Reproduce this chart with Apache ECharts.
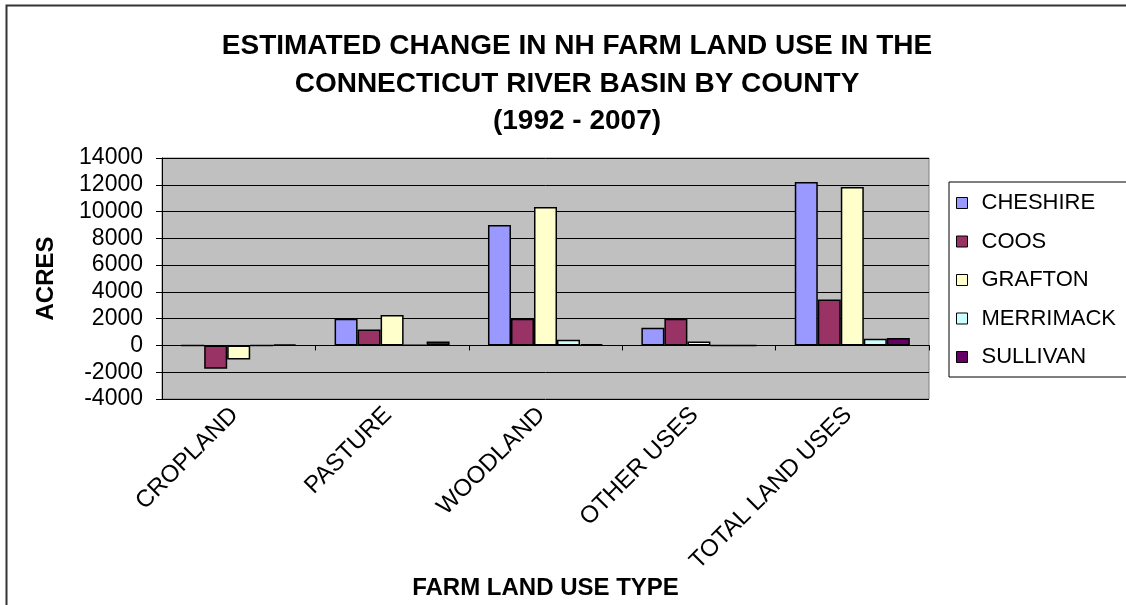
<!DOCTYPE html>
<html lang="en">
<head>
    <meta charset="UTF-8">
    <title>NH Farm Land Use Change</title>
    <style>
        html, body { margin: 0; padding: 0; background: #fff; }
    </style>
</head>
<body>
<div id="main" style="width: 1126px;height:605px;"></div>

<script src="https://cdn.jsdelivr.net/npm/echarts@6/dist/echarts.min.js"></script>

<script type="text/javascript">
    // categories on the x axis
    var landUses = ['CROPLAND', 'PASTURE', 'WOODLAND', 'OTHER USES', 'TOTAL LAND USES'];

    // one array per county (acres changed, 1992 - 2007)
    var cheshire  = [0,     2000, 9000,  1320, 12200];
    var coos      = [-1740, 1200, 2000,  2000, 3440];
    var grafton   = [-1045, 2270, 10340, 300,  11830];
    var merrimack = [0,     40,   420,   0,    500];
    var sullivan  = [80,    300,  100,   0,    550];

    var counties = ['CHESHIRE', 'COOS', 'GRAFTON', 'MERRIMACK', 'SULLIVAN'];
    var colors = ['#9999FF', '#993366', '#FFFFCC', '#CCFFFF', '#660066'];

    // y axis range
    var yMin = -4000;
    var yMax = 14000;
    var yStep = 2000;

    var font = 'Liberation Sans, Arial, sans-serif';

    function drawChart() {
        var myChart = echarts.init(document.getElementById('main'));

        var values = [cheshire, coos, grafton, merrimack, sullivan];
        var series = [];
        for (var i = 0; i < counties.length; i++) {
            series.push({
                name: counties[i],
                type: 'bar',
                xAxisIndex: 0,
                barGap: 0,
                barCategoryGap: '25%',
                itemStyle: {
                    color: colors[i],
                    borderColor: '#000',
                    borderWidth: 1.5
                },
                data: values[i]
            });
        }

        var option = {
            animation: false,
            textStyle: { fontFamily: font },
            title: {
                text: 'ESTIMATED CHANGE IN NH FARM LAND USE IN THE\nCONNECTICUT RIVER BASIN BY COUNTY\n(1992 - 2007)',
                left: 572,
                top: 23,
                textAlign: 'center',
                textStyle: {
                    fontFamily: font,
                    fontSize: 28,
                    fontWeight: 'bold',
                    color: '#000',
                    lineHeight: 37.5
                }
            },
            // outer chart frame
            graphic: [{
                type: 'rect',
                shape: { x: 6.5, y: 5.5, width: 1300, height: 800 },
                style: { fill: 'none', stroke: '#333', lineWidth: 2 },
                silent: true
            }],
            legend: {
                data: counties,
                orient: 'vertical',
                left: 949,
                top: 182,
                backgroundColor: '#fff',
                borderColor: '#000',
                borderWidth: 1,
                padding: [10, 30, 9, 7],
                itemGap: 16.5,
                itemWidth: 11,
                itemHeight: 11,
                icon: 'rect',
                itemStyle: { borderColor: '#000', borderWidth: 1 },
                textStyle: {
                    fontFamily: font,
                    fontSize: 22,
                    color: '#000',
                    padding: [0, 0, 0, 9]
                }
            },
            grid: {
                left: 162,
                right: 197,
                top: 158,
                bottom: 206,
                show: true,
                backgroundColor: '#C0C0C0',
                borderColor: '#808080',
                borderWidth: 1
            },
            xAxis: [
                {
                    type: 'category',
                    data: landUses,
                    position: 'bottom',
                    axisLine: { show: false, onZero: false },
                    axisTick: { show: false },
                    axisLabel: {
                        rotate: 45,
                        interval: 0,
                        margin: 8,
                        padding: [0, 6, 0, 0],
                        fontFamily: font,
                        fontSize: 24,
                        color: '#000'
                    },
                    name: 'FARM LAND USE TYPE',
                    nameLocation: 'middle',
                    nameGap: 176,
                    nameTextStyle: {
                        fontFamily: font,
                        fontSize: 24,
                        fontWeight: 'bold',
                        color: '#000'
                    }
                },
                {
                    // the line through zero with its category ticks
                    type: 'category',
                    data: landUses,
                    position: 'top',
                    axisLine: { show: true, onZero: true, lineStyle: { color: '#000', width: 1 } },
                    axisTick: { show: true, inside: true, length: 5, lineStyle: { color: '#000' } },
                    axisLabel: { show: false },
                    splitLine: { show: false }
                }
            ],
            yAxis: {
                type: 'value',
                min: yMin,
                max: yMax,
                interval: yStep,
                axisLine: { show: true, onZero: false, lineStyle: { color: '#000', width: 1 } },
                axisTick: { show: true, length: 6, lineStyle: { color: '#000' } },
                axisLabel: {
                    margin: 19,
                    fontFamily: font,
                    fontSize: 23,
                    color: '#000',
                    formatter: function (v) { return String(v); }
                },
                splitLine: { show: true, lineStyle: { color: '#000', width: 1 } },
                name: 'ACRES',
                nameLocation: 'middle',
                nameRotate: 90,
                nameGap: 104,
                nameTextStyle: {
                    fontFamily: font,
                    fontSize: 24,
                    fontWeight: 'bold',
                    color: '#000'
                }
            },
            series: series
        };
        myChart.setOption(option);
    }

    drawChart();
</script>
</body>
</html>
